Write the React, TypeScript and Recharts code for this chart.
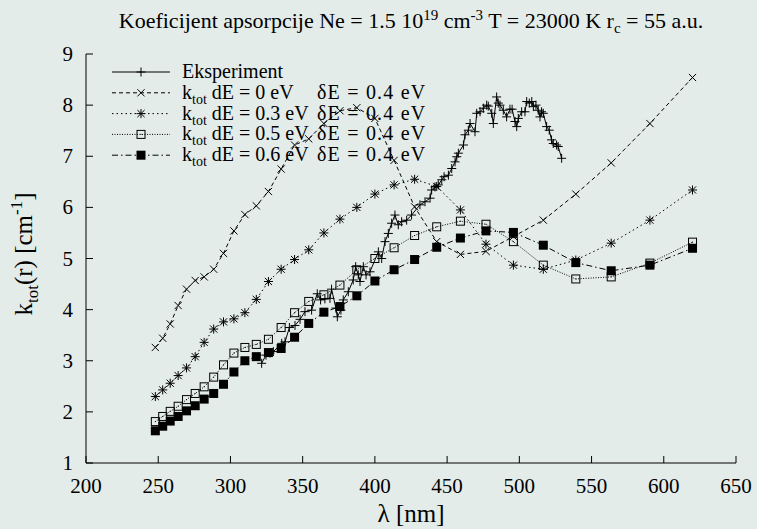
import React from 'react';
import { LineChart, Line, XAxis, YAxis } from 'recharts';

// model wavelengths (nm) shared by the four k_tot curves
const lambdaModel = [
  248.0, 253.1, 258.3, 263.8, 269.6, 275.6, 281.8, 288.4, 295.2, 302.4, 310.0,
  317.9, 326.3, 335.1, 344.4, 354.2, 364.7, 375.8, 387.5, 400.0, 413.3, 427.5,
  442.8, 459.2, 476.9, 495.9, 516.6, 539.1, 563.6, 590.4, 619.9,
];
const kDE0 = [
  3.26, 3.44, 3.72, 4.08, 4.4, 4.57, 4.64, 4.79, 5.1, 5.54, 5.86, 6.03, 6.31, 6.75, 7.22, 7.34,
  7.64, 7.89, 7.95, 7.74, 6.92, 6.01, 5.33, 5.08, 5.14, 5.43, 5.75, 6.26, 6.87, 7.64, 8.54,
];
const kDE03 = [
  2.3, 2.43, 2.56, 2.71, 2.86, 3.08, 3.36, 3.62, 3.76, 3.82, 3.94, 4.2, 4.55, 4.79, 4.98, 5.17,
  5.5, 5.77, 6.0, 6.26, 6.44, 6.55, 6.41, 5.95, 5.28, 4.87, 4.79, 4.97, 5.3, 5.75, 6.34,
];
const kDE05 = [
  1.81, 1.91, 2.01, 2.11, 2.24, 2.36, 2.49, 2.68, 2.92, 3.15, 3.26, 3.32, 3.42, 3.65, 3.94, 4.16,
  4.29, 4.48, 4.78, 5.0, 5.21, 5.45, 5.62, 5.73, 5.67, 5.33, 4.87, 4.6, 4.64, 4.91, 5.32,
];
const kDE06 = [
  1.63, 1.72, 1.82, 1.91, 2.02, 2.12, 2.25, 2.36, 2.54, 2.78, 3.0, 3.08, 3.16, 3.24, 3.46, 3.73,
  3.95, 4.06, 4.27, 4.56, 4.78, 4.98, 5.22, 5.4, 5.54, 5.51, 5.26, 4.92, 4.76, 4.87, 5.2,
];

// experiment
const expLambda = [
  321.6, 324.6, 327.4, 329.7, 335.5, 337.8, 340.8, 344.7, 348.2, 351.6, 356.2, 360.1, 362.4,
  365.4, 368.9, 370.0, 373.0, 374.0, 376.5, 378.1, 381.6, 385.0, 386.7, 388.5, 389.7, 392.0,
  393.9, 396.6, 402.4, 404.7, 407.0, 409.3, 411.6, 413.9, 416.2, 418.5, 422.0, 425.4, 431.2,
  434.7, 438.2, 439.3, 441.6, 443.9, 446.3, 447.9, 450.9, 453.2, 455.5, 456.7, 457.8, 461.3,
  462.4, 464.7, 465.9, 469.3, 470.5, 472.8, 475.1, 477.4, 478.5, 480.9, 482.0, 484.3, 485.4,
  486.6, 488.9, 491.2, 493.5, 495.0, 497.0, 498.2, 499.3, 501.6, 503.9, 505.1, 506.9, 508.6,
  509.7, 511.5, 513.1, 514.3, 515.4, 516.6, 518.9, 520.7, 522.3, 523.5, 525.8, 526.9, 529.3,
];
const expK = [
  2.95, 3.11, 3.15, 3.18, 3.34, 3.37, 3.65, 3.69, 3.81, 3.96, 3.99, 4.31, 4.19,
  4.21, 4.22, 4.4, 4.03, 3.86, 3.99, 4.19, 4.35, 4.58, 4.84, 4.68, 4.55, 4.84,
  4.68, 4.74, 5.13, 5.0, 5.33, 5.49, 5.69, 5.85, 5.66, 5.72, 5.75, 5.85, 6.05,
  6.11, 6.18, 6.34, 6.4, 6.44, 6.54, 6.6, 6.63, 6.76, 6.89, 6.99, 7.06, 7.22,
  7.42, 7.51, 7.64, 7.48, 7.84, 7.87, 7.94, 8.0, 7.98, 7.84, 7.64, 8.16, 8.04,
  8.0, 7.9, 7.77, 7.92, 7.92, 7.68, 7.58, 7.74, 7.87, 7.87, 8.07, 8.04, 8.07,
  7.97, 8.0, 7.9, 7.77, 7.87, 7.84, 7.58, 7.51, 7.32, 7.25, 7.22, 7.19, 6.96,
];

const xTicks = [200, 250, 300, 350, 400, 450, 500, 550, 600, 650];
const yTicks = [1, 2, 3, 4, 5, 6, 7, 8, 9];
const dEValues = ['0', '0.3', '0.5', '0.6'];

const BG = '#e4ece9';
const INK = '#000';
const FONT = "'Liberation Serif', 'Times New Roman', serif";

const toPoints = (xs: number[], ys: number[]) => xs.map((x, i) => ({ x, y: ys[i] }));
const expData = toPoints(expLambda, expK);
const dE0Data = toPoints(lambdaModel, kDE0);
const dE03Data = toPoints(lambdaModel, kDE03);
const dE05Data = toPoints(lambdaModel, kDE05);
const dE06Data = toPoints(lambdaModel, kDE06);

type Shape = 'plus' | 'cross' | 'star' | 'box' | 'fbox';

const Marker = ({ shape, cx, cy }: { shape: Shape; cx: number; cy: number }) => {
  const s = 4.5;
  const d = 3.6;
  if (shape === 'plus')
    return (
      <g stroke={INK} strokeWidth={1}>
        <line x1={cx - s} x2={cx + s} y1={cy} y2={cy} />
        <line x1={cx} x2={cx} y1={cy - s} y2={cy + s} />
      </g>
    );
  if (shape === 'cross')
    return (
      <g stroke={INK} strokeWidth={1}>
        <line x1={cx - d} x2={cx + d} y1={cy - d} y2={cy + d} />
        <line x1={cx - d} x2={cx + d} y1={cy + d} y2={cy - d} />
      </g>
    );
  if (shape === 'star')
    return (
      <g stroke={INK} strokeWidth={1}>
        <line x1={cx - d} x2={cx + d} y1={cy - d} y2={cy + d} />
        <line x1={cx - d} x2={cx + d} y1={cy + d} y2={cy - d} />
        <line x1={cx - s} x2={cx + s} y1={cy} y2={cy} />
        <line x1={cx} x2={cx} y1={cy - s} y2={cy + s} />
      </g>
    );
  if (shape === 'box')
    return (
      <g>
        <rect x={cx - 4} y={cy - 4} width={8} height={8} fill="none" stroke={INK} strokeWidth={1} />
        <rect x={cx - 0.5} y={cy - 0.5} width={1} height={1} fill={INK} />
      </g>
    );
  return <rect x={cx - 4.5} y={cy - 4.5} width={9} height={9} fill={INK} />;
};

const dotFor = (shape: Shape) => (props: any) => {
  const { cx, cy, index } = props;
  if (cx == null || cy == null) return <g key={`${shape}-${index}`} />;
  return (
    <g key={`${shape}-${index}`}>
      <Marker shape={shape} cx={cx} cy={cy} />
    </g>
  );
};

const txt = (size: number) => ({ fontSize: size, fill: INK, style: { fontFamily: FONT } });

const BottomTick = (props: any) => {
  const { x, y, payload } = props;
  return (
    <g>
      <line x1={x} x2={x} y1={y} y2={y - 7} stroke={INK} />
      <text x={x} y={y + 30} textAnchor="middle" {...txt(21)}>
        {payload.value}
      </text>
    </g>
  );
};
const TopTick = (props: any) => (
  <line x1={props.x} x2={props.x} y1={props.y} y2={props.y + 7} stroke={INK} />
);
const LeftTick = (props: any) => {
  const { x, y, payload } = props;
  return (
    <g>
      <line x1={x} x2={x + 7} y1={y} y2={y} stroke={INK} />
      <text x={x - 13} y={y + 7} textAnchor="end" {...txt(21)}>
        {payload.value}
      </text>
    </g>
  );
};
const RightTick = (props: any) => (
  <line x1={props.x} x2={props.x - 7} y1={props.y} y2={props.y} stroke={INK} />
);

const legendRows: { shape: Shape; dash?: string }[] = [
  { shape: 'plus' },
  { shape: 'cross', dash: '4 3' },
  { shape: 'star', dash: '1.5 3' },
  { shape: 'box', dash: '1 1.5' },
  { shape: 'fbox', dash: '6 3 1.5 3' },
];

const Overlay = () => (
  <svg
    width={757}
    height={529}
    style={{ position: 'absolute', left: 0, top: 0, pointerEvents: 'none', whiteSpace: 'pre' }}
  >
    <text x={411} y={28} textAnchor="middle" {...txt(22)}>
      Koeficijent apsorpcije Ne = 1.5 10
      <tspan dy={-8} fontSize={15}>19</tspan>
      <tspan dy={8}> cm</tspan>
      <tspan dy={-8} fontSize={15}>-3</tspan>
      <tspan dy={8}>{'  T = 23000 K r'}</tspan>
      <tspan dy={5} fontSize={15}>c</tspan>
      <tspan dy={-5}> = 55 a.u.</tspan>
    </text>
    <text x={411} y={522} textAnchor="middle" {...txt(25)}>
      λ [nm]
    </text>
    <text transform="rotate(-90)" x={-254} y={32} textAnchor="middle" {...txt(25)}>
      k<tspan dy={6} fontSize={17}>tot</tspan>
      <tspan dy={-6}>(r) [cm</tspan>
      <tspan dy={-10} fontSize={17}>-1</tspan>
      <tspan dy={10}>]</tspan>
    </text>
    {legendRows.map((row, i) => {
      const y = 72 + i * 20.8;
      return (
        <g key={i}>
          <line x1={112} x2={170} y1={y} y2={y} stroke={INK} strokeDasharray={row.dash} />
          <Marker shape={row.shape} cx={141} cy={y} />
          {i === 0 ? (
            <text x={182} y={y + 6} {...txt(20)}>
              Eksperiment
            </text>
          ) : (
            <text x={182} y={y + 6} {...txt(20)}>
              k<tspan dy={5} fontSize={14}>tot</tspan>
              <tspan dy={-5}>{` dE = ${dEValues[i - 1]} eV`}</tspan>
              <tspan x={317} letterSpacing={1.2}>δE = 0.4 eV</tspan>
            </text>
          )}
        </g>
      );
    })}
  </svg>
);

export default function App() {
  return (
    <div style={{ position: 'absolute', left: 0, top: 0, width: 757, height: 529, background: BG }}>
      <LineChart width={757} height={529} margin={{ top: 54, right: 21, bottom: 0, left: 0 }}>
        <XAxis xAxisId="b" dataKey="x" type="number" domain={[200, 650]} ticks={xTicks} height={66} tickSize={0} tickMargin={0} tickLine={false} axisLine={{ stroke: INK }} tick={BottomTick} allowDataOverflow />
        <XAxis xAxisId="t" orientation="top" dataKey="x" type="number" domain={[200, 650]} ticks={xTicks} height={0} tickSize={0} tickMargin={0} tickLine={false} axisLine={{ stroke: INK }} tick={TopTick} allowDataOverflow />
        <YAxis yAxisId="l" type="number" domain={[1, 9]} ticks={yTicks} width={86} tickSize={0} tickMargin={0} tickLine={false} axisLine={{ stroke: INK }} tick={LeftTick} allowDataOverflow />
        <YAxis yAxisId="r" orientation="right" type="number" domain={[1, 9]} ticks={yTicks} width={0} tickSize={0} tickMargin={0} tickLine={false} axisLine={{ stroke: INK }} tick={RightTick} allowDataOverflow />
        <Line xAxisId="b" yAxisId="l" data={dE0Data} dataKey="y" type="linear" stroke={INK} strokeWidth={1} strokeDasharray="4 3" dot={dotFor('cross')} isAnimationActive={false} />
        <Line xAxisId="b" yAxisId="l" data={dE03Data} dataKey="y" type="linear" stroke={INK} strokeWidth={1} strokeDasharray="1.5 3" dot={dotFor('star')} isAnimationActive={false} />
        <Line xAxisId="b" yAxisId="l" data={dE05Data} dataKey="y" type="linear" stroke={INK} strokeWidth={1} strokeDasharray="1 1.5" dot={dotFor('box')} isAnimationActive={false} />
        <Line xAxisId="b" yAxisId="l" data={dE06Data} dataKey="y" type="linear" stroke={INK} strokeWidth={1} strokeDasharray="6 3 1.5 3" dot={dotFor('fbox')} isAnimationActive={false} />
        <Line xAxisId="b" yAxisId="l" data={expData} dataKey="y" type="linear" stroke={INK} strokeWidth={1} dot={dotFor('plus')} isAnimationActive={false} />
      </LineChart>
      <Overlay />
    </div>
  );
}
